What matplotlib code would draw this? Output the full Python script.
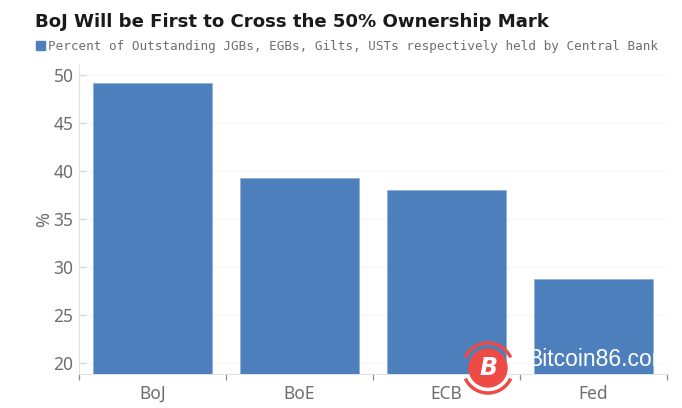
#!/usr/bin/env python3

import matplotlib
matplotlib.use("Agg")
import matplotlib.pyplot as plt
from matplotlib.patches import Arc, Circle, Rectangle

banks = ["BoJ", "BoE", "ECB", "Fed"]
held = [49.2, 39.3, 38.0, 28.8]
yticks = [20, 25, 30, 35, 40, 45, 50]

W, H = 682, 408
blue = "#4c7fbc"
grey = "#6e6e6e"

fig = plt.figure(figsize=(W/100, H/100), dpi=100)
ax = fig.add_axes([79/W, 1-374/H, 588/W, (374-65)/H])

ax.bar(range(4), held, width=0.81, color=blue, edgecolor="#8fb0d8", linewidth=0.6, zorder=3)
ax.set_xlim(-0.5, 3.5)
ax.set_ylim(18.9, 51.05)

# gridlines are very faint in the original
ax.set_yticks(yticks)
ax.grid(axis="y", color="#f7f7f7", lw=0.9, zorder=0)
ax.tick_params(axis="y", direction="in", length=5, color="#d8d8d8", labelsize=12.5, labelcolor=grey, pad=4)
ax.set_ylabel("%", fontsize=13, color=grey, labelpad=0, family="Noto Sans")
for lab in ax.get_yticklabels():
    lab.set_family("Noto Sans")

# category labels sit between the ticks at the band edges
ax.set_xticks([-0.5, 0.5, 1.5, 2.5, 3.5])
ax.set_xticklabels([])
ax.tick_params(axis="x", direction="out", length=4, color="#8a8a8a", width=0.9)
for i, b in enumerate(banks):
    ax.annotate(b, xy=(i, 0), xycoords=("data", "axes fraction"), xytext=(0, -8), textcoords="offset points",
                ha="center", va="top", fontsize=12.5, color=grey, family="Noto Sans")

for s in ["top", "right"]:
    ax.spines[s].set_visible(False)
ax.spines["left"].set_color("#e2e2e2")
ax.spines["bottom"].set_color("#e2e2e2")

fig.text(35/W, 1-22/H, "BoJ Will be First to Cross the 50% Ownership Mark", fontsize=13.07, fontweight="bold",
         color="#1a1a1a", va="center", family="DejaVu Sans")
fig.patches.append(Rectangle((36/W, 1-50/H), 9/W, 9/H, transform=fig.transFigure, color=blue))
fig.text(48/W, 1-46.5/H, "Percent of Outstanding JGBs, EGBs, Gilts, USTs respectively held by Central Bank",
         fontsize=9.07, color=grey, va="center", family="DejaVu Sans Mono")

# site watermark over the lower right corner
over = fig.add_axes([0, 0, 1, 1])
over.set_xlim(0, W)
over.set_ylim(H, 0)
over.axis("off")
red = "#ee4b45"
over.add_patch(Circle((488, 368), 19, color=red, zorder=5))
over.add_patch(Arc((488, 368), 50, 50, theta1=205, theta2=335, color=red, lw=2.5, zorder=5))
over.add_patch(Arc((488, 368), 50, 50, theta1=25, theta2=155, color=red, lw=2.5, zorder=5))
over.text(488, 368, "B", color="white", fontsize=17, fontweight="bold", style="italic", ha="center", va="center",
          family="DejaVu Sans", zorder=6)
over.text(527, 360, "Bitcoin86.com", color="white", fontsize=16.5, ha="left", va="center",
          family="Liberation Sans", zorder=6)

fig.savefig("out.png", dpi=100)
